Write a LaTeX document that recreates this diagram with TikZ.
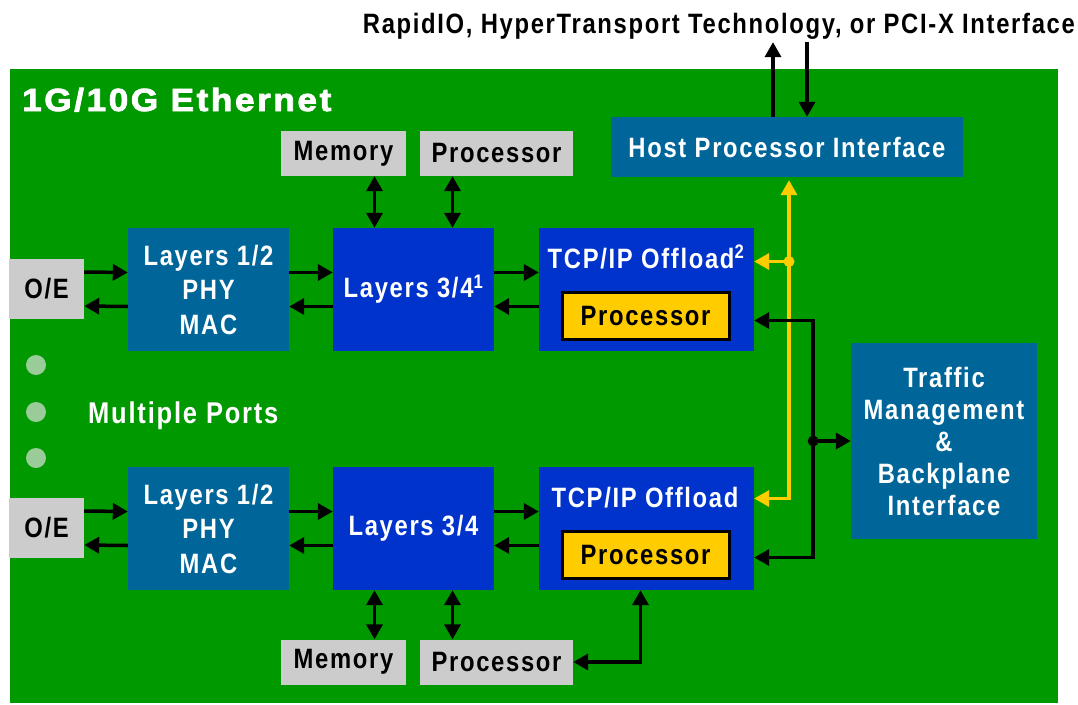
\documentclass[tikz,border=0pt]{standalone}
\usepackage{fontspec}
\setmainfont[FakeStretch=0.85,LetterSpace=6]{Liberation Sans}
\newfontfamily\headfont[FakeStretch=1.1,LetterSpace=8,BoldFeatures={FakeBold=2.5}]{Liberation Sans}
\usetikzlibrary{arrows.meta}
\usepackage{xcolor}
\definecolor{boardgreen}{RGB}{0,153,0}
\definecolor{chipgrey}{RGB}{204,204,204}
\definecolor{tealblue}{RGB}{0,102,153}
\definecolor{deepblue}{RGB}{0,51,204}
\definecolor{cpuyellow}{RGB}{255,204,0}
\definecolor{portdot}{RGB}{153,204,153}

\begin{document}
\begin{tikzpicture}
  [x=1pt,y=-1pt,
   every node/.style={inner sep=0pt,align=center,font=\fontsize{28}{34.5}\selectfont\bfseries},
   chipbox/.style={fill=chipgrey,text=black},
   tealbox/.style={fill=tealblue,text=white},
   bluebox/.style={fill=deepblue,text=white},
   cpubox/.style={fill=cpuyellow,draw=black,line width=3pt,text=black,minimum width=167pt,minimum height=47pt},
   arr/.style={line width=3.5pt,-{Triangle[length=15pt,width=16pt]}},
   dbl/.style={line width=3.5pt,{Triangle[length=15pt,width=16pt]}-{Triangle[length=15pt,width=16pt]}},
   yline/.style={line width=3.5pt,draw=cpuyellow}]
  \useasboundingbox (0,0) rectangle (1078,704);
  \fill[boardgreen] (10,69) rectangle (1058,703);

  \node[anchor=base east] (bus) at (1075,33) {RapidIO, HyperTransport Technology, or PCI-X Interface};
  \node[anchor=base west,text=white,font=\headfont\bfseries\fontsize{32}{36}\selectfont] (eth) at (22,111) {1G/10G Ethernet};

  \node[chipbox,minimum width=125pt,minimum height=45pt] (memA) at (343.5,153.5) {Memory};
  \node[chipbox,minimum width=153pt,minimum height=45pt] (cpuA) at (496.5,153.5) {Processor};
  \node[tealbox,minimum width=352pt,minimum height=60pt] (host) at (787,147) {Host Processor Interface};

  \node[chipbox,minimum width=75pt,minimum height=60pt] (oeA) at (46.5,289) {O/E};
  \node[tealbox,minimum width=161pt,minimum height=123pt] (linkA) at (208.5,289.5) {Layers 1/2\\PHY\\MAC};
  \node[bluebox,minimum width=161pt,minimum height=123pt] (netA) at (413.5,289.5) {Layers 3/4\textsuperscript{1}};
  \node[bluebox,minimum width=215pt,minimum height=123pt] (tcpA) at (646.5,289.5) {};
  \node[anchor=base,text=white] (tcpAt) at (646,268) {TCP/IP Offload\textsuperscript{2}};
  \node[cpubox] (procA) at (645.5,316) {Processor};

  \node[chipbox,minimum width=75pt,minimum height=60pt] (oeB) at (46.5,528) {O/E};
  \node[tealbox,minimum width=161pt,minimum height=123pt] (linkB) at (208.5,528.5) {Layers 1/2\\PHY\\MAC};
  \node[bluebox,minimum width=161pt,minimum height=123pt] (netB) at (413.5,528.5) {Layers 3/4};
  \node[bluebox,minimum width=215pt,minimum height=123pt] (tcpB) at (646.5,528.5) {};
  \node[anchor=base,text=white] (tcpBt) at (645,507) {TCP/IP Offload};
  \node[cpubox] (procB) at (645.5,554.5) {Processor};

  \node[chipbox,minimum width=125pt,minimum height=45pt] (memB) at (343.5,662) {Memory};
  \node[chipbox,minimum width=153pt,minimum height=45pt] (cpuB) at (496.5,662) {Processor};

  \node[tealbox,minimum width=186pt,minimum height=196pt,font=\fontsize{28}{32}\selectfont\bfseries] (traffic) at (944,441) {Traffic\\Management\\\&\\Backplane\\Interface};

  \foreach \y in {365,412,458}
    \fill[portdot] (36,\y) circle (10pt);
  \node[anchor=base west,text=white,font=\fontsize{30}{34}\selectfont\bfseries] (ports) at (88,423) {Multiple Ports};

  \foreach \from/\to in {oeA/linkA,linkA/netA,netA/tcpA,oeB/linkB,linkB/netB,netB/tcpB}
  {
    \draw[arr] ([yshift=17pt]\from.east) -- ([yshift=17pt]\to.west);
    \draw[arr] ([yshift=-17pt]\to.west) -- ([yshift=-17pt]\from.east);
  }

  \coordinate (mA) at ([xshift=-39pt]netA.north);
  \coordinate (pA) at ([xshift=39pt]netA.north);
  \coordinate (mB) at ([xshift=-39pt]netB.south);
  \coordinate (pB) at ([xshift=39pt]netB.south);
  \draw[dbl] (mA) -- (mA |- memA.south);
  \draw[dbl] (pA) -- (pA |- cpuA.south);
  \draw[dbl] (mB) -- (mB |- memB.north);
  \draw[dbl] (pB) -- (pB |- cpuB.north);

  \coordinate (hu) at ([xshift=-14pt]host.north);
  \coordinate (hd) at ([xshift=20pt]host.north);
  \draw[arr,shorten >=3pt] (hu) -- (hu |- bus.south);
  \draw[arr,shorten <=3pt] (hd |- bus.south) -- (hd);

  \coordinate (ya) at ([yshift=28pt]tcpA.east);
  \coordinate (yb) at ([yshift=30pt]tcpB.east);
  \coordinate (yh) at ([xshift=2pt,yshift=-3pt]host.south);
  \draw[yline,{Triangle[length=15pt,width=16pt]}-{Triangle[length=15pt,width=16pt]}] (yb) -| (yh);
  \draw[yline,-{Triangle[length=15pt,width=16pt]}] (yh |- ya) -- (ya);
  \fill[cpuyellow] (yh |- ya) circle (5.5pt);

  \coordinate (ka) at ([yshift=-31pt]tcpA.east);
  \coordinate (kb) at ([yshift=-29pt]tcpB.east);
  \coordinate (kv) at ([xshift=59pt]ka);
  \draw[dbl] (ka) -- (kv) |- (kb);
  \draw[arr] (kv |- traffic.west) -- (traffic.west);
  \fill (kv |- traffic.west) circle (5.5pt);

  \draw[dbl] (cpuB.east) -| ([xshift=-6pt]tcpB.south);
\end{tikzpicture}
\end{document}
